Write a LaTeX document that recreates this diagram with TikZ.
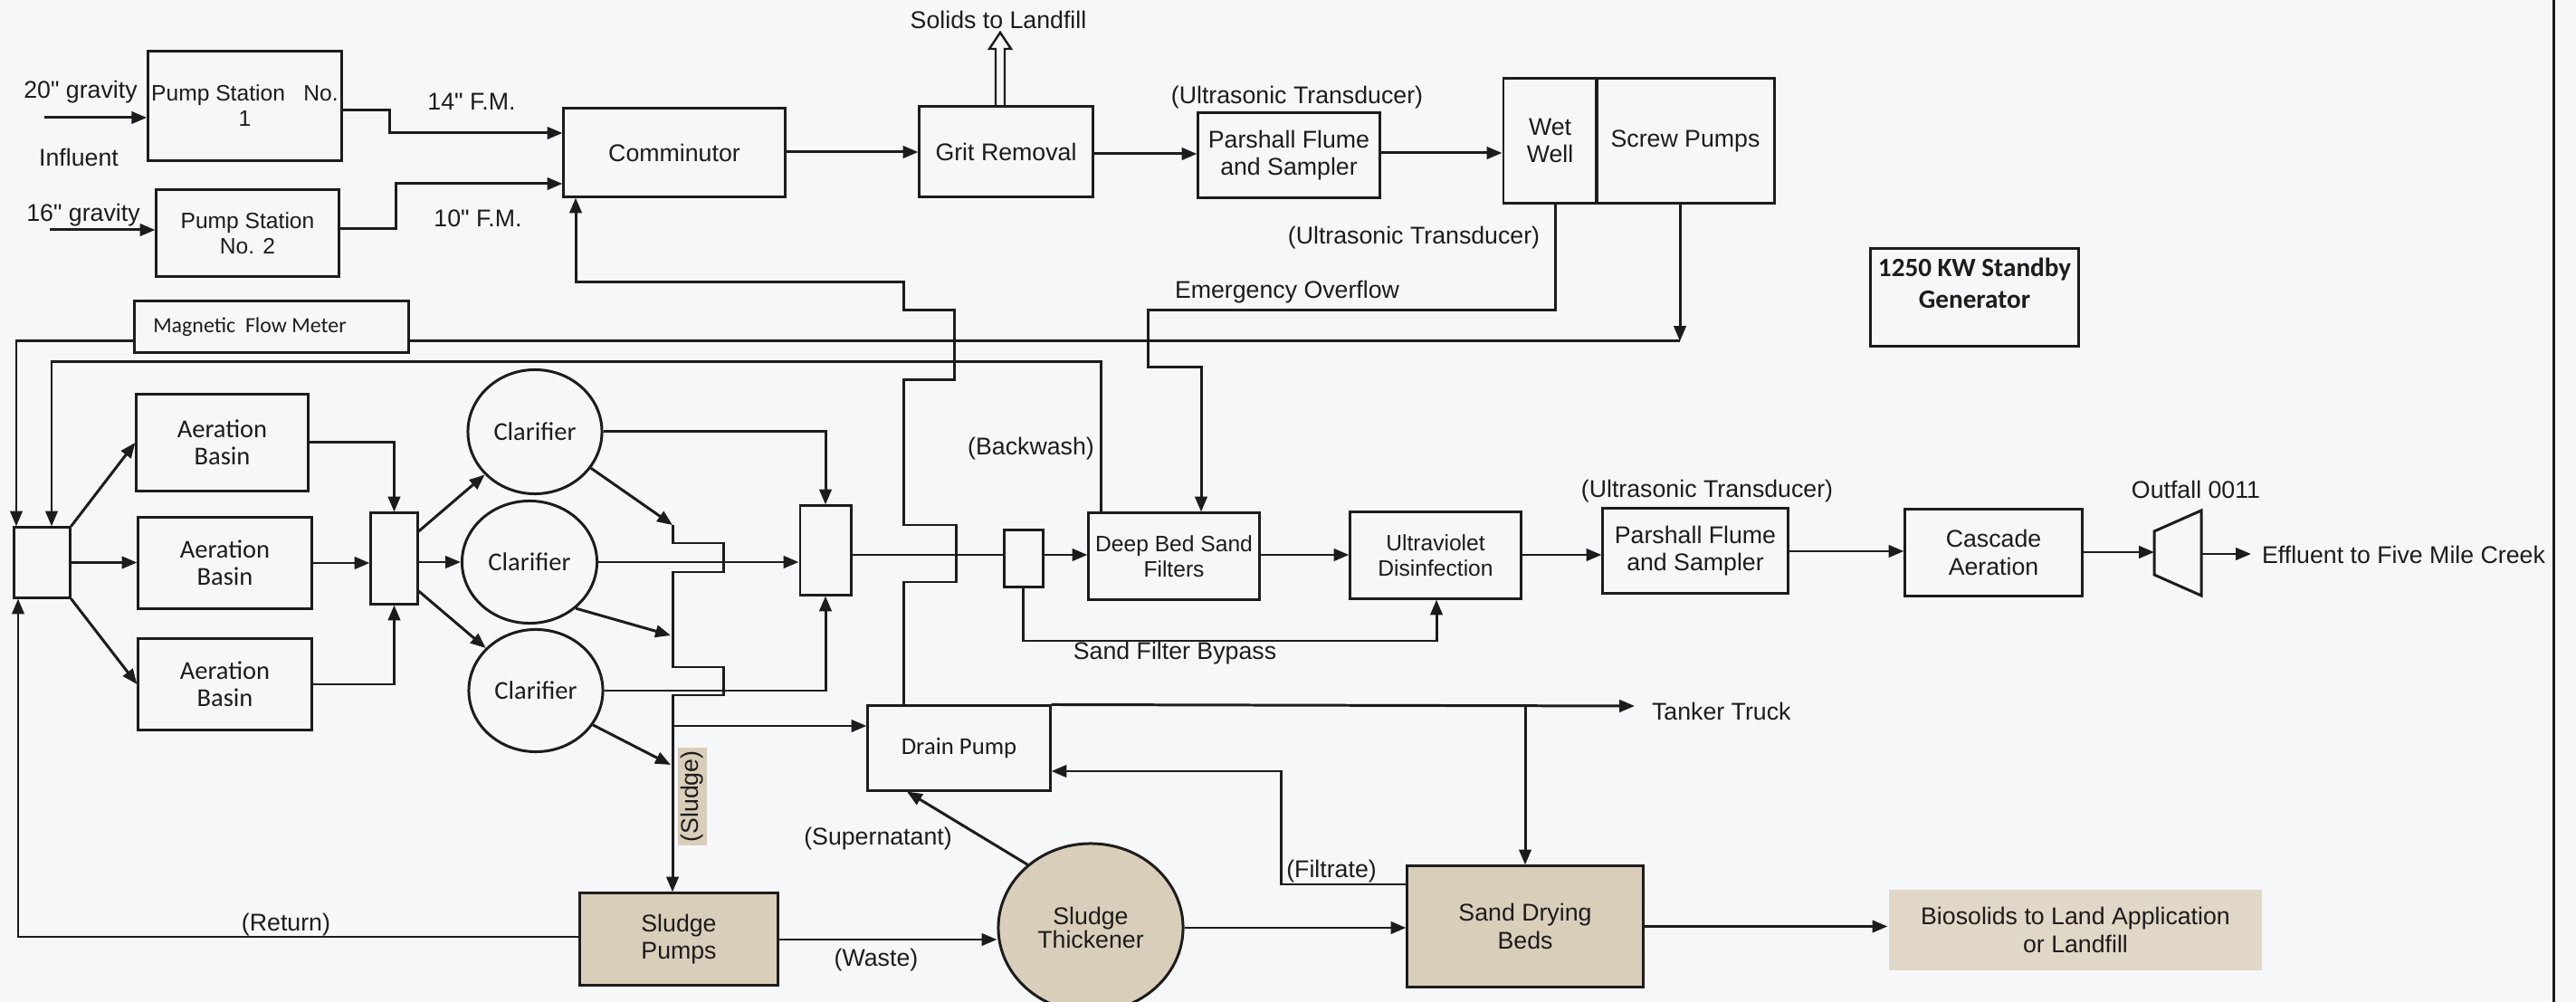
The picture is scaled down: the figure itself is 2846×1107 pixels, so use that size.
\documentclass[tikz,border=0pt]{standalone}
\usepackage{fontspec}
\setmainfont{Liberation Sans}[Ligatures=TeXOff]
\newfontfamily\carl{Carlito}
\usetikzlibrary{arrows.meta,shapes.geometric}
\definecolor{ink}{RGB}{28,28,28}
\definecolor{paper}{RGB}{246,247,249}
\definecolor{beige}{RGB}{217,206,186}
\definecolor{beigeL}{RGB}{225,215,198}
\begin{document}
\begin{tikzpicture}[x=0.01cm,y=-0.01cm,line width=0.85pt,color=ink,
  arr/.style={-{Triangle[length=4.8pt,width=3.8pt]}},
  fa/.style={font=\fontsize{7.6}{8.6}\selectfont},
  fs/.style={font=\fontsize{7.0}{8.0}\selectfont},
  fc/.style={font=\carl\fontsize{8.1}{8.4}\selectfont},
  box/.style={draw,rectangle,inner sep=1pt,align=center,fa},
  oval/.style={draw,ellipse,inner sep=1pt,align=center,fa},
  lbl/.style={inner sep=1pt,align=center,fa}]
\fill[paper] (0,0) rectangle (2846,1107);
\useasboundingbox (0,0) rectangle (2846,1107);

% ---------- boxes ----------
\node[box,fs,minimum width=2.01cm,minimum height=1.20cm] (ps1) at (270.5,117) {Pump Station\ \ \ No.\\1};
\node[box,fs,minimum width=2.01cm,minimum height=0.95cm] (ps2) at (273.5,257.5) {Pump Station\\No. 2};
\node[box,minimum width=2.44cm,minimum height=0.97cm] (comm) at (745,168.5) {Comminutor};
\node[box,minimum width=1.91cm,minimum height=0.99cm] (grit) at (1111.5,167.5) {Grit Removal};
\node[box,minimum width=2.00cm,minimum height=0.93cm] (pf1) at (1424,171.5) {Parshall Flume\\and Sampler};
\node[box,minimum width=1.03cm,minimum height=1.37cm] (ww) at (1712.5,155.5) {Wet\\Well};
\node[box,minimum width=1.96cm,minimum height=1.37cm] (sp) at (1862,155.5) {Screw Pumps};
\node[box,minimum width=2.29cm,minimum height=1.07cm] (gen) at (2181.5,328.5) {};
\node[align=center,inner sep=0pt,font=\carl\bfseries\fontsize{8.3}{10}\selectfont] (genT) at (2181.5,313) {1250 KW Standby\\Generator};
\node[box,minimum width=3.02cm,minimum height=0.56cm] (mfm) at (300,361) {};
\node[inner sep=0pt,font=\carl\fontsize{6.8}{8}\selectfont] (mfmT) at (276,361) {Magnetic\ \ Flow Meter};

\node[box,minimum width=0.61cm,minimum height=0.77cm] (split) at (46.5,621.5) {};
\node[box,fc,minimum width=1.89cm,minimum height=1.06cm] (ab1) at (245.5,489) {Aeration\\Basin};
\node[box,fc,minimum width=1.91cm,minimum height=1.00cm] (ab2) at (248.5,622) {Aeration\\Basin};
\node[box,fc,minimum width=1.91cm,minimum height=1.00cm] (ab3) at (248.5,756) {Aeration\\Basin};
\node[box,minimum width=0.51cm,minimum height=1.00cm] (merge1) at (435.5,617) {};
\node[oval,fc,minimum width=1.48cm,minimum height=1.37cm] (cl1) at (591,477) {Clarifier};
\node[oval,fc,minimum width=1.49cm,minimum height=1.35cm] (cl2) at (585,621) {Clarifier};
\node[oval,fc,minimum width=1.48cm,minimum height=1.35cm] (cl3) at (592,763) {Clarifier};
\node[box,minimum width=0.56cm,minimum height=0.98cm] (merge2) at (912,608) {};
\node[box,minimum width=0.43cm,minimum height=0.62cm] (sfsplit) at (1130.5,617) {};
\node[box,fs,minimum width=1.88cm,minimum height=0.95cm] (dbsf) at (1297,614.5) {Deep Bed Sand\\Filters};
\node[box,fs,minimum width=1.88cm,minimum height=0.95cm] (uv) at (1586,613.5) {Ultraviolet\\Disinfection};
\node[box,minimum width=2.04cm,minimum height=0.93cm] (pf2) at (1873,608.5) {Parshall Flume\\and Sampler};
\node[box,minimum width=1.95cm,minimum height=0.95cm] (casc) at (2202.5,610.5) {Cascade\\Aeration};

\node[box,font=\carl\fontsize{7.6}{8.4}\selectfont,minimum width=2.01cm,minimum height=0.93cm] (drain) at (1059.5,826.5) {Drain Pump};
\node[box,fill=beige,minimum width=2.18cm,minimum height=1.01cm] (spumps) at (750,1037.5) {Sludge\\Pumps};
\node[oval,fill=beige,font=\fontsize{7.6}{7.2}\selectfont,minimum width=2.04cm,minimum height=1.86cm] (thick) at (1205,1025) {Sludge\\Thickener};
\node[box,fill=beige,minimum width=2.60cm,minimum height=1.33cm] (sdb) at (1685,1023.5) {Sand Drying\\Beds};
\node[rectangle,fill=beigeL,inner sep=1pt,align=center,fa,minimum width=4.12cm,minimum height=0.89cm] (bio) at (2293,1027.5) {Biosolids to Land Application\\or Landfill};

% outfall
\coordinate (of1) at (2380,587);
\coordinate (of2) at (2432,564);
\coordinate (of3) at (2432,658);
\coordinate (of4) at (2380,635);
\coordinate (ofin) at (2380,610);
\coordinate (ofout) at (2432,612);
\draw (of1) -- (of2) -- (of3) -- (of4) -- cycle;

% ---------- labels ----------
\node[lbl] (t20) at (89,102) {20" gravity};
\node[lbl] (infl) at (87,174) {Influent};
\node[lbl] (t16) at (92,238) {16" gravity};
\node[lbl] (fm14) at (521,112) {14" F.M.};
\node[lbl] (fm10) at (528,241) {10" F.M.};
\node[lbl] (solids) at (1103,22) {Solids to Landfill};
\node[lbl] (ut1) at (1433,108) {(Ultrasonic Transducer)};
\node[lbl] (ut2) at (1562,263) {(Ultrasonic Transducer)};
\node[lbl] (eo) at (1422,323) {Emergency Overflow};
\node[lbl] (bw) at (1139,496) {(Backwash)};
\node[lbl] (sfb) at (1298,722) {Sand Filter Bypass};
\node[lbl] (ut3) at (1886,543) {(Ultrasonic Transducer)};
\node[lbl] (oft) at (2426,541) {Outfall 0011};
\node[lbl,anchor=west] (effl) at (2494,613) {Effluent to Five Mile Creek};
\node[lbl,anchor=west] (tank) at (1820,786) {Tanker Truck};
\node[lbl] (supn) at (970,927) {(Supernatant)};
\node[lbl] (filt) at (1471,963) {(Filtrate)};
\node[lbl] (ret) at (316,1022) {(Return)};
\node[lbl] (waste) at (968,1061) {(Waste)};
\node[lbl,rotate=90,fill=beige] (sludge) at (765,880) {(Sludge)};

% ---------- free ends ----------
\coordinate (in1) at (49,130);
\coordinate (in2) at (55,254);
\coordinate (tk) at (1806,780);
\coordinate (ef) at (2487,612);
\coordinate (s1) at (743,580);
\coordinate (s2) at (741,702);
\coordinate (s3) at (741,845);

% ---------- connectors ----------
\draw[arr] (in1) -- (in1 -| ps1.west);
\draw[arr] (in2) -- (in2 -| ps2.west);
\draw[arr] (ps1.east |- 0,122) -| (430,147) -- (comm.west |- 0,147);
\draw[arr] (ps2.east |- 0,253) -| (437,203) -- (comm.west |- 0,203);
\draw[arr] (comm.east |- 0,168) -- (grit.west |- 0,168);
\draw[arr] (grit.east |- 0,170) -- (pf1.west |- 0,170);
\draw[arr] (pf1.east |- 0,169) -- (ww.west |- 0,169);
% solids hollow arrow
\draw[line width=0.7pt] (1100,118) -- (1100,54) -- (1093,54) -- (1105,36) -- (1117,54) -- (1110,54) -- (1110,118);
% emergency overflow
\draw[arr] (ww.south -| 1718,0) -- (1718,343) -- (1268,343) -- (1268,406) -- (1327,406) -- (dbsf.north -| 1327,0);
% screw pumps -> magnetic flow meter -> splitter
\draw[arr] (sp.south -| 1856,0) -- (1856,377);
\draw (1856,377) -- (mfm.east |- 0,377);
\draw[arr] (mfm.west |- 0,377) -| (split.north -| 18,0);
% backwash
\draw[arr] (dbsf.north -| 1216,0) |- (57,400) -- (split.north -| 57,0);
% return
\draw[arr] (spumps.west |- 0,1035) -- (20,1035) -- (split.south -| 20,0);
% splitter -> aeration
\draw[arr] (split.north east) -- (ab1.west);
\draw[arr] (split.east) -- (split.east -| ab2.west);
\draw[arr] (split.south east) -- (ab3.west);
% aeration -> merge1
\draw[arr] (ab1.east) -| (merge1.north);
\draw[arr] (ab2.east) -- (ab2.east -| merge1.west);
\draw[arr] (ab3.east) -| (merge1.south);
% merge1 -> clarifiers
\draw[arr] (merge1.east |- 0,587) -- (cl1);
\draw[arr] (merge1.east |- cl2.west) -- (cl2.west);
\draw[arr] (merge1.east |- 0,653) -- (cl3);
% clarifiers -> merge2
\draw[arr] (cl1.east) -| (merge2.north);
\draw[arr] (cl2.east) -- (cl2.east -| merge2.west);
\draw[arr] (cl3.east) -| (merge2.south);
% clarifiers -> sludge line
\draw[arr] (cl1.-33) -- (s1);
\draw[arr] (cl2.-45) -- (s2);
\draw[arr] (cl3.-31) -- (s3);
\draw[arr] (s1) -- (743,600) -- (799,600) -- (799,632) -- (743,632) -- (743,737) -- (799,737) -- (799,768) -- (743,768) -- (spumps.north -| 743,0);
% sludge line -> drain pump
\draw[arr] (743,802) -- (drain.west |- 0,802);
% drain pump -> comminutor (with crossovers)
\draw[arr] (drain.north -| 998,0) -- (998,643) -- (1056,643) -- (1056,580) -- (998,580) -- (998,420) -- (1054,420) -- (1054,343) -- (998,343) -- (998,312) -- (636,312) -- (comm.south -| 636,0);
% main line
\draw (merge2.east |- 0,613) -- (sfsplit.west |- 0,613);
\draw[arr] (sfsplit.east |- 0,613) -- (dbsf.west |- 0,613);
\draw[arr] (dbsf.east |- 0,613) -- (uv.west |- 0,613);
\draw[arr] (uv.east |- 0,613) -- (pf2.west |- 0,613);
\draw[arr] (pf2.east |- 0,609) -- (casc.west |- 0,609);
\draw[arr] (casc.east |- ofin) -- (ofin);
\draw[arr] (ofout) -- (ef);
% bypass
\draw[arr] (sfsplit.south) |- (1587,708) -- (uv.south -| 1587,0);
% drain pump -> tanker, drying beds
\draw[arr] (drain.north east) -- (tk);
\draw[arr] (sdb.north |- drain.north) -- (sdb.north);
% filtrate
\draw[arr] (sdb.west |- 0,977) -| (1415,852) -- (drain.east |- 0,852);
% supernatant
\draw[arr] (thick.135) -- (drain.south -| 1002,0);
% waste, thickener, biosolids
\draw[arr] (spumps.east |- 0,1038) -- (thick.west |- 0,1038);
\draw[arr] (thick.east) -- (thick.east -| sdb.west);
\draw[arr] (sdb.east) -- (sdb.east -| bio.west);

% right frame line
\draw (2821,0) -- (2821,1107);
\end{tikzpicture}
\end{document}
